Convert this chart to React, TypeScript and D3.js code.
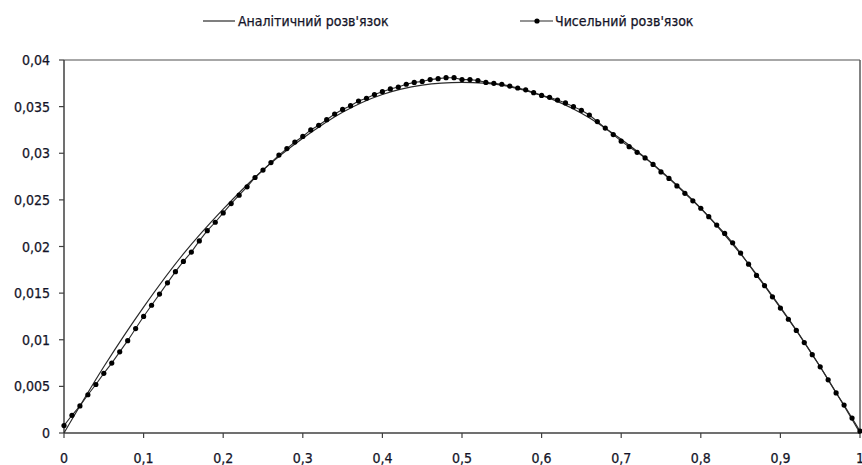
import React from "react";
import * as d3 from "d3";

// Numerical solution, sampled at x = 0, 0.01, ..., 1
const numericY: number[] = [
  0.0008, 0.0019, 0.0029, 0.0041, 0.0052, 0.0064, 0.0075, 0.0087, 0.0099, 0.0112,
  0.0125, 0.0137, 0.0149, 0.0161, 0.0173, 0.0184, 0.0194, 0.0206, 0.0217, 0.0226,
  0.0236, 0.0246, 0.0255, 0.0264, 0.0274, 0.0282, 0.0290, 0.0298, 0.0305, 0.0312,
  0.0318, 0.0325, 0.0330, 0.0336, 0.0342, 0.0347, 0.0351, 0.0356, 0.0359, 0.0363,
  0.0366, 0.0369, 0.0371, 0.0374, 0.0376, 0.0377, 0.0379, 0.0380, 0.0381, 0.0381,
  0.0379, 0.0379, 0.0378, 0.0376, 0.0375, 0.0374, 0.0372, 0.0370, 0.0368, 0.0365,
  0.0362, 0.0360, 0.0357, 0.0354, 0.0350, 0.0346, 0.0341, 0.0334, 0.0327, 0.0320,
  0.0313, 0.0307, 0.0301, 0.0295, 0.0288, 0.0280, 0.0273, 0.0265, 0.0257, 0.0249,
  0.0241, 0.0232, 0.0223, 0.0214, 0.0204, 0.0193, 0.0181, 0.0169, 0.0158, 0.0146,
  0.0134, 0.0122, 0.0110, 0.0097, 0.0084, 0.0071, 0.0057, 0.0043, 0.0030, 0.0016,
  0.0002,
];
const numericStep = 0.01;

// Analytic solution, sampled at x = 0, 0.05, ..., 1
const analyticY: number[] = [
  0, 0.0071, 0.0135, 0.0192, 0.0240, 0.0282, 0.0316, 0.0344, 0.0363, 0.0373,
  0.0376, 0.0373, 0.0362, 0.0343, 0.0315, 0.0281, 0.0241, 0.0192, 0.0135, 0.0071,
  0,
];
const analyticStep = 0.05;

const xTicks: number[] = [0, 0.1, 0.2, 0.3, 0.4, 0.5, 0.6, 0.7, 0.8, 0.9, 1];
const yTicks: number[] = [0, 0.005, 0.01, 0.015, 0.02, 0.025, 0.03, 0.035, 0.04];

const seriesNames = ["Аналітичний розв'язок", "Чисельний розв'язок"];

const W = 862;
const H = 465;
const FONT = "'DejaVu Sans Condensed', 'DejaVu Sans', sans-serif";
const TEXT = "#141428";

const fmt = (v: number) => String(+v.toFixed(3)).replace(".", ",");

export default function App() {
  const x = d3.scaleLinear().domain([0, 1]).range([64, 860]);
  const y = d3.scaleLinear().domain([0, 0.04]).range([433, 60]);

  const analyticPts: [number, number][] = analyticY.map((v, i) => [i * analyticStep, v]);
  const numericPts: [number, number][] = numericY.map((v, i) => [i * numericStep, v]);

  const analyticLine = d3
    .line<[number, number]>()
    .x((d) => x(d[0]))
    .y((d) => y(d[1]))
    .curve(d3.curveCatmullRom.alpha(0.5));
  const numericLine = d3
    .line<[number, number]>()
    .x((d) => x(d[0]))
    .y((d) => y(d[1]));

  const [x0, x1] = x.range();
  const [yb, yt] = y.range();

  return (
    <svg
      width={W}
      height={H}
      style={{ position: "absolute", left: 0, top: 0, background: "#fff" }}
      fontFamily={FONT}
    >
      <rect x={0} y={0} width={W} height={H} fill="#fff" />
      {/* plot frame */}
      <line x1={x0} y1={yt} x2={x1} y2={yt} stroke="#8a8a8a" strokeWidth={1.5} />
      <line x1={x1} y1={yt} x2={x1} y2={yb} stroke="#5a5a5a" strokeWidth={1.5} />
      <line x1={x0} y1={yt} x2={x0} y2={yb} stroke="#404040" strokeWidth={1.5} />
      <line x1={x0} y1={yb} x2={x1} y2={yb} stroke="#404040" strokeWidth={1.5} />

      {/* y ticks */}
      {yTicks.map((t) => (
        <g key={"y" + t}>
          <line x1={x0 - 5} x2={x0} y1={y(t)} y2={y(t)} stroke="#404040" strokeWidth={1.2} />
          <text x={50} y={y(t)} dy="0.36em" textAnchor="end" fontSize={14} fill={TEXT}
            stroke={TEXT} strokeWidth={0.25}>
            {fmt(t)}
          </text>
        </g>
      ))}
      {/* x ticks */}
      {xTicks.map((t) => (
        <g key={"x" + t}>
          <line x1={x(t)} x2={x(t)} y1={yb} y2={yb + 5} stroke="#404040" strokeWidth={1.2} />
          <text x={x(t)} y={463} textAnchor="middle" fontSize={14} fill={TEXT}
            stroke={TEXT} strokeWidth={0.25}>
            {fmt(t)}
          </text>
        </g>
      ))}

      {/* series */}
      <path d={analyticLine(analyticPts) || ""} fill="none" stroke="#2a2a2a" strokeWidth={1.2} />
      <path d={numericLine(numericPts) || ""} fill="none" stroke="#2a2a2a" strokeWidth={1.1} />
      {numericPts.map((d, i) => (
        <circle key={"p" + i} cx={x(d[0])} cy={y(d[1])} r={2.6} fill="#000" />
      ))}

      {/* legend */}
      <line x1={203} x2={235} y1={21} y2={21} stroke="#2a2a2a" strokeWidth={1.2} />
      <text x={238} y={26} fontSize={14} fill={TEXT} stroke={TEXT} strokeWidth={0.25}>
        {seriesNames[0]}
      </text>
      <line x1={520} x2={553} y1={21} y2={21} stroke="#2a2a2a" strokeWidth={1.2} />
      <circle cx={537} cy={21} r={2.6} fill="#000" />
      <text x={555} y={26} fontSize={14} fill={TEXT} stroke={TEXT} strokeWidth={0.25}>
        {seriesNames[1]}
      </text>
    </svg>
  );
}
